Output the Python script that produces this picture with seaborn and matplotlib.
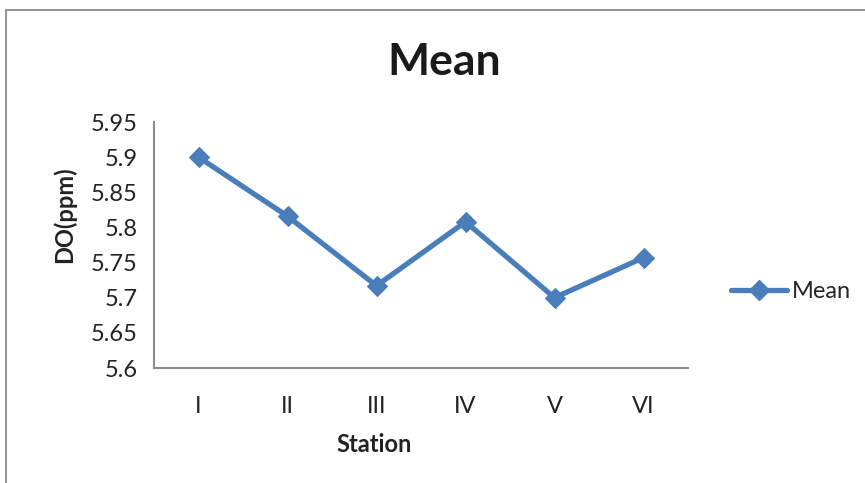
import matplotlib
matplotlib.use("Agg")
import matplotlib.pyplot as plt
from matplotlib.lines import Line2D
import seaborn as sns
import pandas as pd
import numpy as np

stations = ["I", "II", "III", "IV", "V", "VI"]
mean_do = [5.90, 5.816, 5.717, 5.808, 5.70, 5.757]
y_ticks = [5.6, 5.65, 5.7, 5.75, 5.8, 5.85, 5.9, 5.95]
y_tick_labels = ["5.6", "5.65", "5.7", "5.75", "5.8", "5.85", "5.9", "5.95"]

sns.set_style("white")
plt.rcParams["font.family"] = ["Lato", "DejaVu Sans"]

blue = "#4a7ebb"
grey = "#8c8c8c"
text_col = "#222222"

df = pd.DataFrame({"pos": np.arange(len(stations)), "DO": mean_do})

fig = plt.figure(figsize=(8.65, 4.83), dpi=100)
ax = fig.add_axes([154 / 865, 1 - 368 / 483, (688 - 154) / 865, (368 - 122) / 483])

sns.lineplot(data=df, x="pos", y="DO", ax=ax, color=blue, linewidth=3.8,
             marker="D", markersize=10.5, markeredgecolor=blue, sort=False)

ax.set_xlim(-0.5, len(stations) - 0.5)
ax.set_ylim(5.6, 5.95)
ax.set_yticks(y_ticks)
ax.set_yticklabels(y_tick_labels)
ax.set_xticks(np.arange(len(stations)))
ax.set_xticklabels(stations)
ax.set_xticks(np.arange(len(stations) + 1) - 0.5, minor=True)
ax.tick_params(axis="x", which="major", length=0, pad=20, labelsize=17, labelcolor=text_col)
ax.tick_params(axis="x", which="minor", length=6, width=1.3, color=grey, direction="out")
ax.tick_params(axis="y", length=6, width=1.3, color=grey, direction="out", pad=6,
               labelsize=17, labelcolor=text_col)

for side in ["top", "right"]:
    ax.spines[side].set_visible(False)
for side in ["left", "bottom"]:
    ax.spines[side].set_color(grey)
    ax.spines[side].set_linewidth(1.5)

ax.set_xlabel("Station", fontsize=17, fontweight="bold", color=text_col)
ax.set_ylabel("DO(ppm)", fontsize=17, fontweight="bold", color=text_col)
ax.xaxis.set_label_coords(0.412, -0.264)
ax.yaxis.set_label_coords(-0.146, 0.622)
fig.text(444 / 865, 1 - 62 / 483, "Mean", fontsize=32, fontweight="bold",
         color="#1a1a1a", ha="center", va="center")

handle = Line2D([0], [0], color=blue, linewidth=3.8, marker="D", markersize=10.5)
fig.legend([handle], ["Mean"], loc="center left", bbox_to_anchor=(710 / 865, 1 - 292 / 483),
           frameon=False, fontsize=17, handlelength=2.35, handletextpad=0.2)

# outer chart frame
fig.add_artist(Line2D([6 / 865, 6 / 865], [0, 1 - 10 / 483], transform=fig.transFigure,
                      color="#8a8a8a", linewidth=1.3))
fig.add_artist(Line2D([6 / 865, 1], [1 - 10 / 483, 1 - 10 / 483], transform=fig.transFigure,
                      color="#8a8a8a", linewidth=1.3))

fig.savefig("out.png", dpi=100)
